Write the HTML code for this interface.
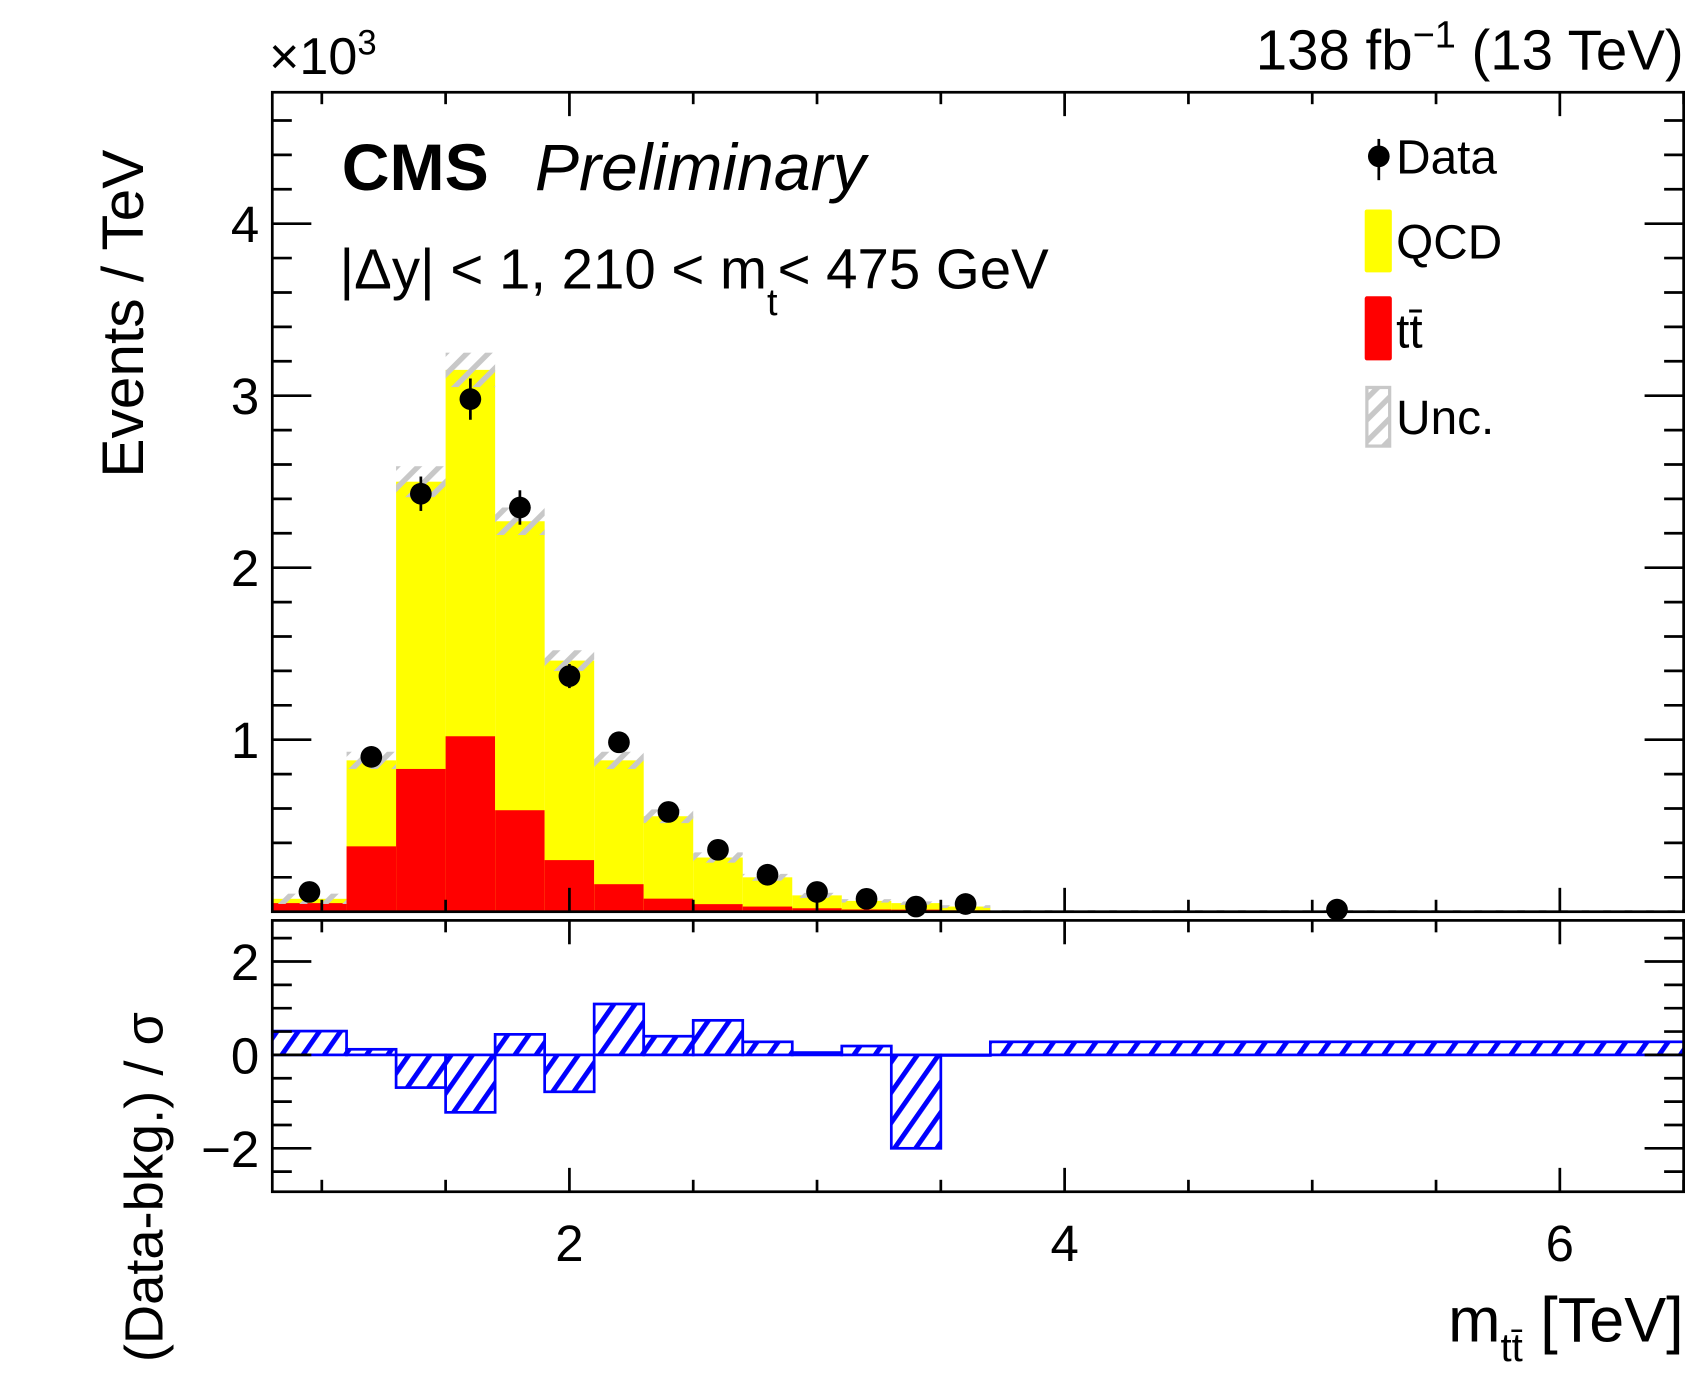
<!DOCTYPE html>
<html><head><meta charset="utf-8"><style>
html,body{margin:0;padding:0;background:#fff}
svg{display:block}
text{font-family:"Liberation Sans",sans-serif}
</style></head><body>
<svg id="chart" width="1701" height="1373" viewBox="0 0 1568 1265" preserveAspectRatio="none" xmlns="http://www.w3.org/2000/svg">
<defs>
<pattern id="hatchGrey" patternUnits="userSpaceOnUse" width="14" height="14" patternTransform="rotate(45)">
<rect x="0" y="0" width="5" height="14" fill="#c8c8c8"/></pattern>
<pattern id="hatchBlue" patternUnits="userSpaceOnUse" width="16" height="16" patternTransform="rotate(35)">
<rect x="0" y="0" width="4.5" height="16" fill="#0000ff"/></pattern>
</defs>
<g id="topPanel"></g>
<g id="botPanel"></g>
<g id="labels">
<text x="248" y="68" font-size="48">×10<tspan font-size="32" dy="-18">3</tspan></text>
<text x="1552" y="64" font-size="52" text-anchor="end">138 fb<tspan font-size="35" dy="-20">−1</tspan><tspan dy="20"> (13 TeV)</tspan></text>
<text x="315" y="175" font-size="61" font-weight="bold">CMS</text>
<text x="493" y="175" font-size="61" font-style="italic">Preliminary</text>
<text x="313" y="266" font-size="52">|Δy| &lt; 1, 210 &lt; m<tspan font-size="35" dy="24">t</tspan><tspan dy="-24">&lt; 475 GeV</tspan></text>
<text transform="translate(132,440) rotate(-90)" font-size="54">Events / TeV</text>
<text transform="translate(150,1255) rotate(-90)" font-size="50">(Data-bkg.) / σ</text>
<text x="1552" y="1236" font-size="58" text-anchor="end">m<tspan font-size="37" dy="18">tt̄</tspan><tspan dy="-18"> [TeV]</tspan></text>
</g>
<g id="legend">
<g>
<line x1="1271" y1="128" x2="1271" y2="166" stroke="#000" stroke-width="2.5"/><circle cx="1271" cy="144" r="10"/>
<text x="1287" y="160" font-size="44">Data</text></g>
<g>
<rect x="1258" y="193" width="25" height="58" rx="2" fill="#ffff00"/><text x="1287" y="238" font-size="44">QCD</text></g>
<g>
<rect x="1258" y="273" width="25" height="59" rx="2" fill="#ff0000"/><text x="1287" y="320" font-size="44">tt̄</text></g>
<g>
<rect x="1260" y="357" width="21" height="54" fill="url(#hatchGrey)" stroke="#c8c8c8" stroke-width="3"/><text x="1287" y="400" font-size="44">Unc.</text></g>
</g>
</svg>
<script>
const binEdges=[0.8,1.1,1.3,1.5,1.7,1.9,2.1,2.3,2.5,2.7,2.9,3.1,3.3,3.5,3.7,6.5];
const totalBkg=[0.075,0.88,2.5,3.15,2.27,1.46,0.88,0.555,0.315,0.2,0.095,0.063,0.05,0.03,0.006];
const ttbar=[0.05,0.38,0.83,1.02,0.59,0.3,0.16,0.076,0.044,0.03,0.02,0.013,0.012,0.008,0.002];
const uncert=[0.03,0.05,0.09,0.1,0.08,0.06,0.05,0.04,0.03,0.02,0.015,0.01,0.01,0.008,0.004];
const dataX=[0.95,1.2,1.4,1.6,1.8,2.0,2.2,2.4,2.6,2.8,3.0,3.2,3.4,3.6,5.1];
const dataY=[0.115,0.9,2.43,2.98,2.35,1.37,0.985,0.58,0.36,0.215,0.115,0.075,0.03,0.045,0.012];
const dataErr=[0.01,0.03,0.1,0.12,0.1,0.07,0.05,0.03,0.02,0.015,0.01,0.008,0.005,0.006,0.003];
const pulls=[0.51,0.12,-0.7,-1.23,0.44,-0.79,1.09,0.4,0.74,0.28,0.05,0.19,-2.0,0,0.28];
const yTickLabels=[1,2,3,4];
const pullTickLabels=[-2,0,2];
const xTickLabels=[2,4,6];

const NS="http://www.w3.org/2000/svg";
const L=251,R=1552,T=85,B=840,BT=848,BB=1098;
const X0=0.8,X1=6.5,Y1=4.764,P0=-2.93,P1=2.88;
const sx=v=>L+(v-X0)/(X1-X0)*(R-L);
const sy=v=>B-v/Y1*(B-T);
const sp=v=>BB-(v-P0)/(P1-P0)*(BB-BT);
function mk(p,tag,at){const e=document.createElementNS(NS,tag);for(const k in at)e.setAttribute(k,at[k]);p.appendChild(e);return e;}
const topG=document.getElementById('topPanel'),botG=document.getElementById('botPanel');
for(let i=0;i<totalBkg.length;i++){
 const x0=sx(binEdges[i]),x1=sx(binEdges[i+1]);
 const q=mk(topG,'rect',{x:x0,y:sy(totalBkg[i]),width:x1-x0,height:B-sy(totalBkg[i]),fill:'#ffff00'});
 
 
 const t=mk(topG,'rect',{x:x0,y:sy(ttbar[i]),width:x1-x0,height:B-sy(ttbar[i]),fill:'#ff0000'});
 
 
 const u=mk(topG,'rect',{x:x0,y:sy(totalBkg[i]+uncert[i]),width:x1-x0,height:sy(totalBkg[i]-uncert[i])-sy(totalBkg[i]+uncert[i]),fill:'url(#hatchGrey)'});
 
 
 const v=pulls[i];
 const pr=mk(botG,'rect',{x:x0,y:Math.min(sp(v),sp(0)),width:x1-x0,height:Math.max(Math.abs(sp(v)-sp(0)),0.5),fill:'url(#hatchBlue)',stroke:'#0000ff','stroke-width':2.5});
 
 
}
for(let i=0;i<dataX.length;i++){
 const g=mk(topG,'g',{});
 
 
 mk(g,'line',{x1:sx(dataX[i]),x2:sx(dataX[i]),y1:sy(dataY[i]+dataErr[i]),y2:sy(dataY[i]-dataErr[i]),stroke:'#000','stroke-width':2.5});
 mk(g,'circle',{cx:sx(dataX[i]),cy:sy(dataY[i]),r:10,fill:'#000'});
}
const f1=mk(topG,'rect',{x:L,y:T,width:R-L,height:B-T,fill:'none',stroke:'#000','stroke-width':2.5});


const f2=mk(botG,'rect',{x:L,y:BT,width:R-L,height:BB-BT,fill:'none',stroke:'#000','stroke-width':2.5});


for(let k=1;k*0.2<Y1;k++){const v=k*0.2,y=sy(v),maj=k%5===0,len=maj?36:18;
 mk(topG,'line',{x1:L,x2:L+len,y1:y,y2:y,stroke:'#000','stroke-width':2.5});
 mk(topG,'line',{x1:R,x2:R-len,y1:y,y2:y,stroke:'#000','stroke-width':2.5});}
yTickLabels.forEach(v=>{const t=mk(topG,'text',{x:L-12,y:sy(v)+17,'font-size':47,'text-anchor':'end'});t.textContent=v;
 
 });
for(let v=-2.5;v<=2.5;v+=0.5){const y=sp(v),maj=Math.abs(v%2)<1e-9,len=maj?36:18;
 mk(botG,'line',{x1:L,x2:L+len,y1:y,y2:y,stroke:'#000','stroke-width':2.5});
 mk(botG,'line',{x1:R,x2:R-len,y1:y,y2:y,stroke:'#000','stroke-width':2.5});}
pullTickLabels.forEach(v=>{const t=mk(botG,'text',{x:L-12,y:sp(v)+17,'font-size':47,'text-anchor':'end'});t.textContent=v===-2?'−2':v;
 
 });
for(let v=1;v<=6.5;v+=0.5){const x=sx(v),maj=Math.abs(v%2)<1e-9,len=maj?22:11;
 mk(topG,'line',{x1:x,x2:x,y1:B,y2:B-len,stroke:'#000','stroke-width':2.5});
 mk(topG,'line',{x1:x,x2:x,y1:T,y2:T+len,stroke:'#000','stroke-width':2.5});
 mk(botG,'line',{x1:x,x2:x,y1:BB,y2:BB-len,stroke:'#000','stroke-width':2.5});
 mk(botG,'line',{x1:x,x2:x,y1:BT,y2:BT+len,stroke:'#000','stroke-width':2.5});}
xTickLabels.forEach(v=>{const t=mk(botG,'text',{x:sx(v),y:1162,'font-size':47,'text-anchor':'middle'});t.textContent=v;
 
 });
</script>
</body></html>
